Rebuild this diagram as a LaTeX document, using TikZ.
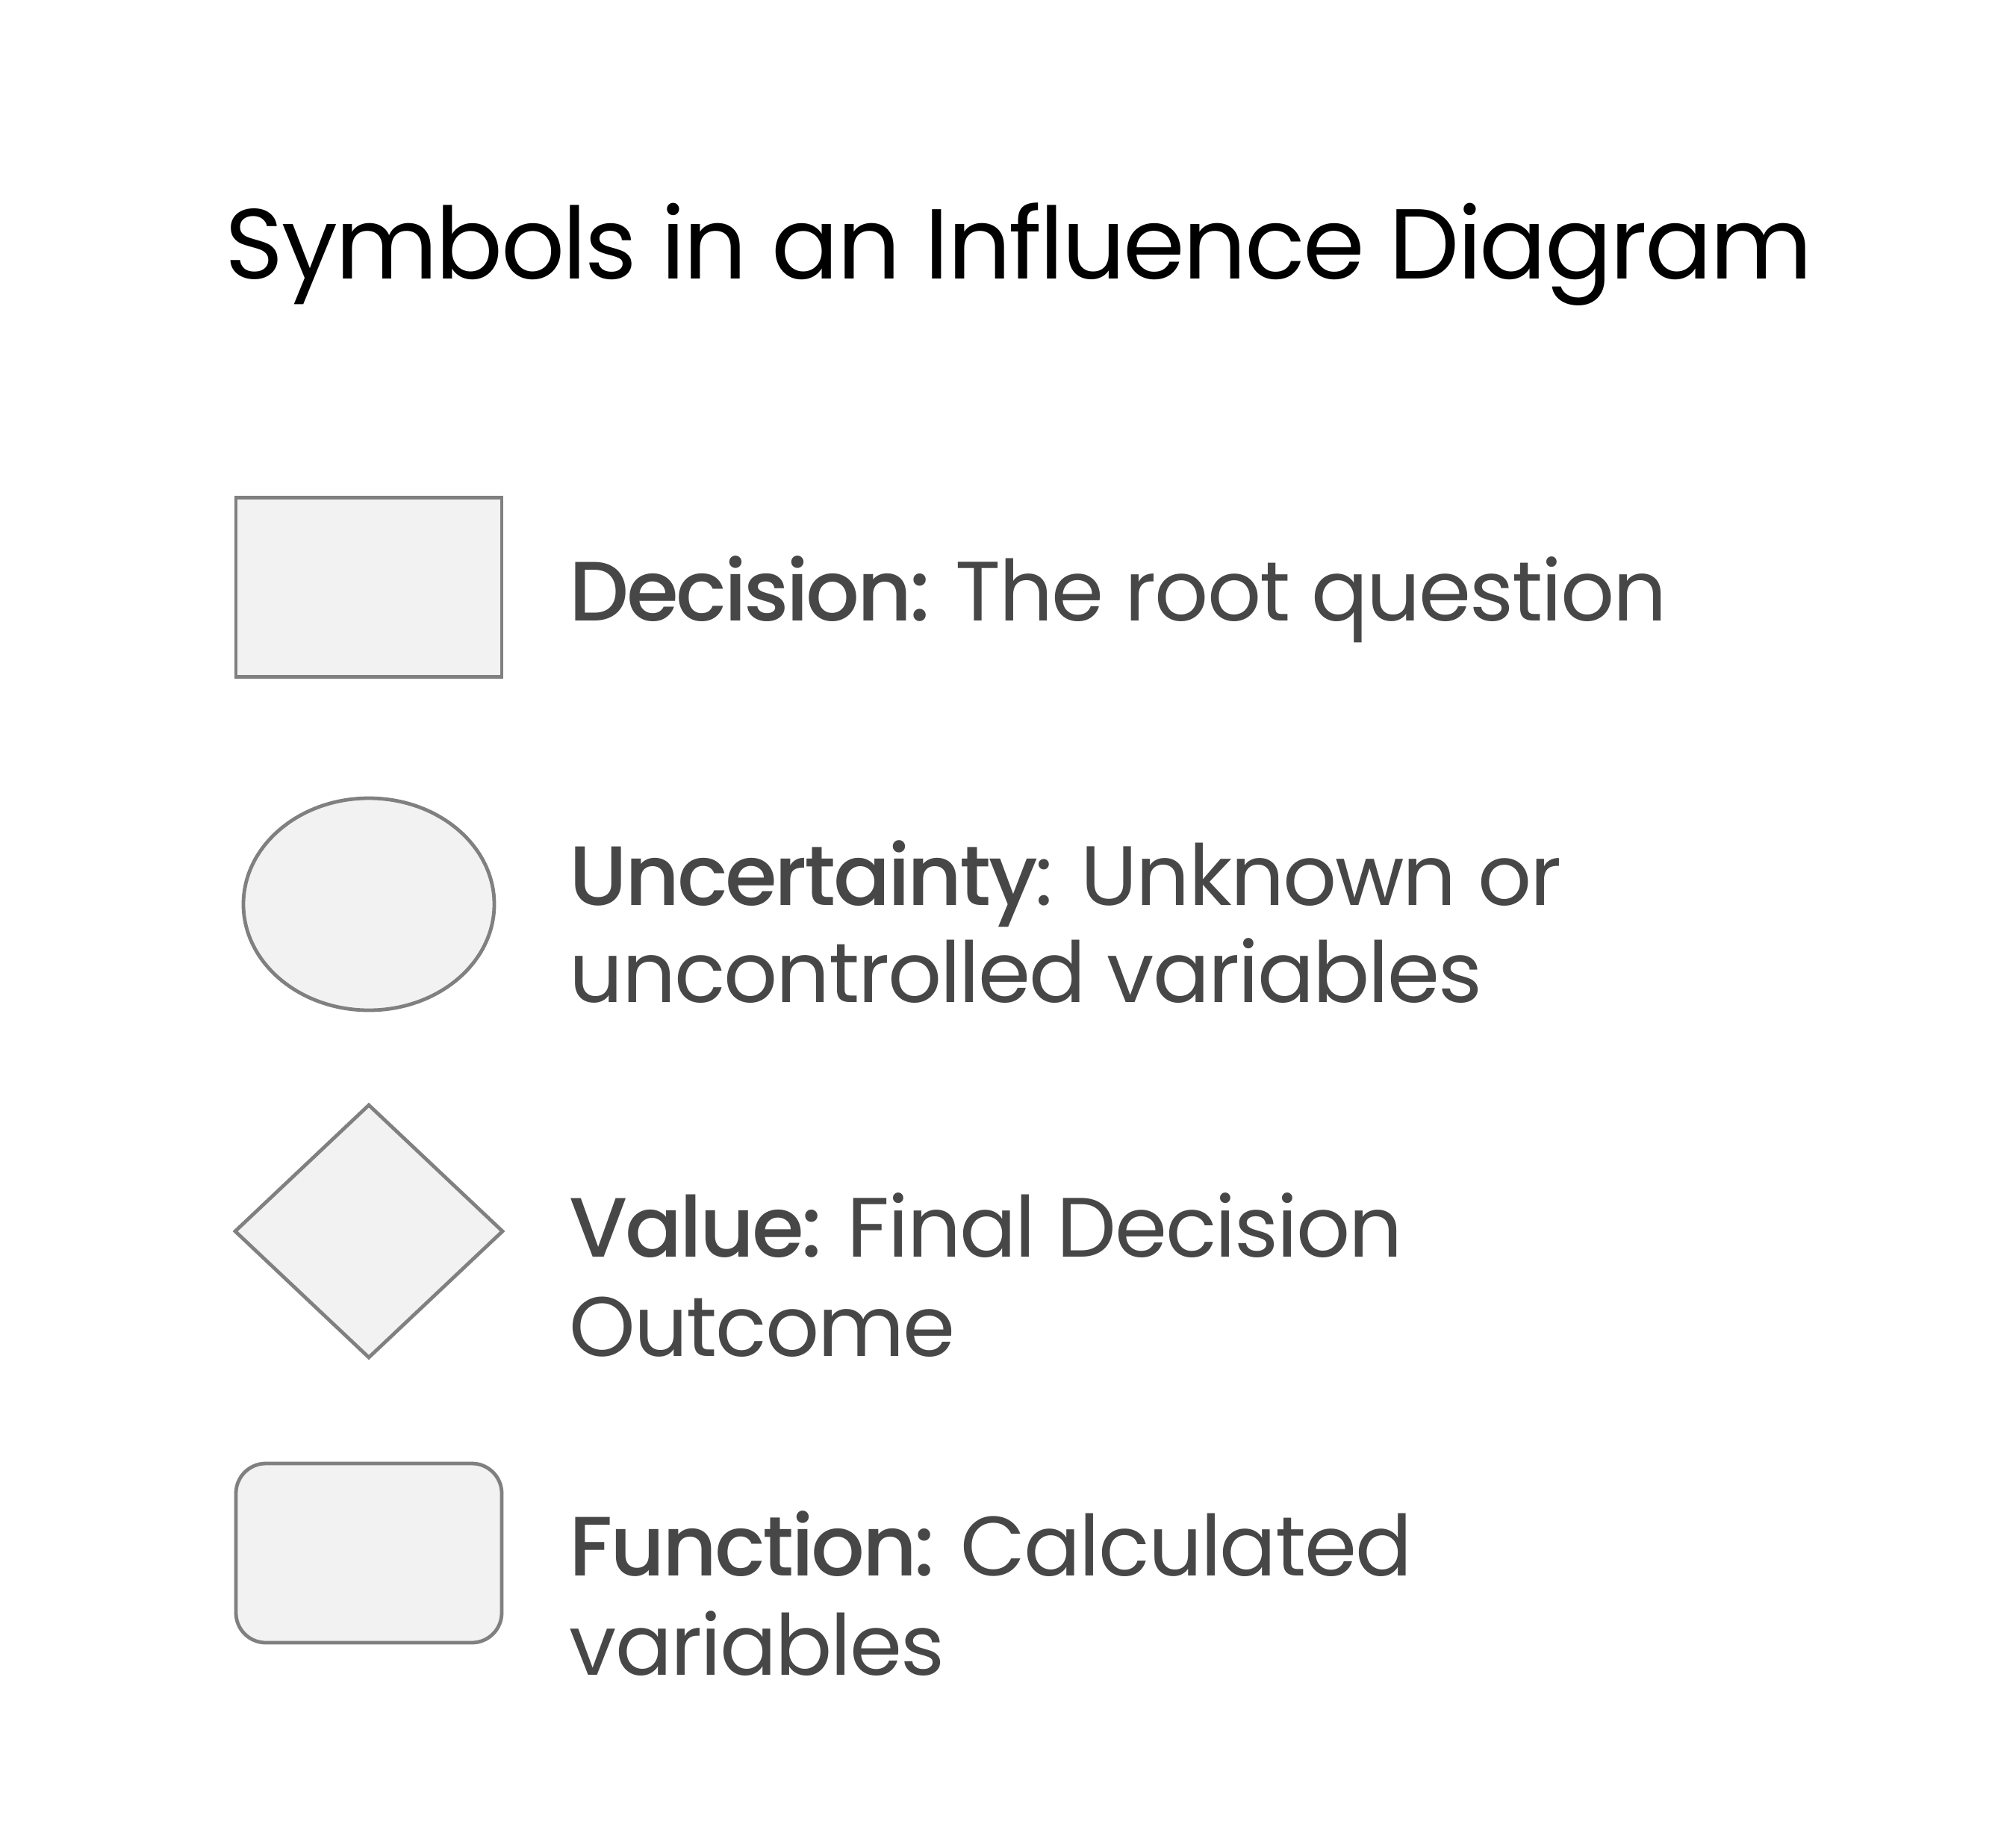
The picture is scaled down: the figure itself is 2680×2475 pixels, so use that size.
\documentclass[tikz,border=0pt]{standalone}
\usepackage{fontspec}
\setmainfont{Poppins}[BoldFont={Poppins Medium}, LetterSpace=-1.8, BoldFeatures={LetterSpace=-3.0}]
\usetikzlibrary{shapes.geometric}
\definecolor{shapeline}{HTML}{808080}
\definecolor{shapefill}{HTML}{F2F2F2}
\definecolor{labeltext}{HTML}{474747}
\tikzset{
  symbolshape/.style={draw=shapeline, fill=shapefill, line width=1.2pt, inner sep=0pt, outer sep=0pt},
  legendtext/.style={anchor=base west, inner sep=0pt, text=labeltext, font=\fontsize{28.2pt}{32.75pt}\selectfont},
  titletext/.style={anchor=base west, inner sep=0pt, text=black, font=\fontsize{33.3pt}{40pt}\selectfont\addfontfeatures{LetterSpace=-2.1}}
}
\begin{document}
\begin{tikzpicture}[x=0.25pt,y=-0.25pt]
\fill[white] (0,0) rectangle (2680,2475);
\useasboundingbox (0,0) rectangle (2680,2475);
\node[titletext] (title) at (301,373) {Symbols in an Influence Diagram};

\node[symbolshape, rectangle, minimum width=89pt, minimum height=60pt] (dec) at (494,786.5) {};
\node[symbolshape, ellipse, minimum width=84pt, minimum height=71pt] (unc) at (494,1211) {};
\node[symbolshape, diamond, minimum width=89.5pt, minimum height=84.5pt] (val) at (494,1649) {};
\node[symbolshape, rectangle, rounded corners=10pt, minimum width=89pt, minimum height=60pt] (fun) at (494,2080) {};

\node[legendtext] (dect) at (762,831) {\textbf{Decision:} The root question};
\node[legendtext] (unct1) at (762,1212) {\textbf{Uncertainty}: Unknown or};
\node[legendtext] (unct2) at (762,1342) {uncontrolled variables};
\node[legendtext] (valt1) at (762,1683) {\textbf{Value:} Final Decision};
\node[legendtext] (valt2) at (762,1816) {Outcome};
\node[legendtext] (funt1) at (762,2110) {\textbf{Function:} Calculated};
\node[legendtext] (funt2) at (762,2243) {variables};
\end{tikzpicture}
\end{document}
